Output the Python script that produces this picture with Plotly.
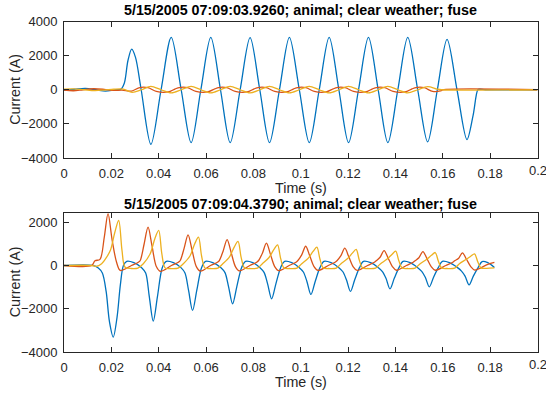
import plotly.graph_objects as go

# ---------------- data (time s, current A) ----------------
top_title = "5/15/2005 07:09:03.9260; animal; clear weather; fuse"
bottom_title = "5/15/2005 07:09:04.3790; animal; clear weather; fuse"

top_blue = [(0.0, -30), (0.0045, 30), (0.009, 80), (0.0135, 0), (0.0175, -80), (0.0215, 0),
            (0.0240, 30), (0.0255, 400), (0.0270, 1700), (0.0286, 2380), (0.0302, 1900),
            (0.0326, 0), (0.0367, -3200), (0.0410, 0), (0.0453, 3070), (0.0495, 0),
            (0.0537, -3100), (0.0578, 0), (0.0620, 3070), (0.0661, 0), (0.0702, -3100),
            (0.0744, 0), (0.0786, 3050), (0.0827, 0), (0.0868, -3100), (0.0910, 0),
            (0.0952, 3070), (0.0994, 0), (0.1036, -3100), (0.1078, 0), (0.1120, 3070),
            (0.1161, 0), (0.1202, -3100), (0.1244, 0), (0.1286, 3070), (0.1327, 0),
            (0.1368, -3100), (0.1410, 0), (0.1452, 3070), (0.1494, 0), (0.1536, -3050),
            (0.1577, 0), (0.1618, 2950), (0.1660, 0), (0.1702, -2920), (0.1728, -1500),
            (0.1748, 0), (0.1756, 30), (0.1780, 0), (0.2000, 0)]

top_red = [(0.0, -20), (0.004, -60), (0.008, 0), (0.0125, 60), (0.017, 20), (0.021, -40),
           (0.0245, -20), (0.0285, -80), (0.0320, 130), (0.0355, 120), (0.0390, -100),
           (0.0440, -130), (0.0470, 50), (0.0487, 130), (0.0522, 120), (0.0557, -100),
           (0.0607, -130), (0.0637, 50), (0.0653, 130), (0.0688, 120), (0.0723, -100),
           (0.0773, -130), (0.0803, 50), (0.0820, 130), (0.0855, 120), (0.0890, -100),
           (0.0940, -130), (0.0970, 50), (0.0987, 130), (0.1022, 120), (0.1057, -100),
           (0.1107, -130), (0.1137, 50), (0.1153, 130), (0.1188, 120), (0.1223, -100),
           (0.1273, -130), (0.1303, 50), (0.1320, 130), (0.1355, 120), (0.1390, -100),
           (0.1440, -130), (0.1470, 50), (0.1487, 130), (0.1522, 120), (0.1557, -100),
           (0.1590, -70), (0.1600, 0), (0.2000, 0)]

top_yellow = [(0.0, 40), (0.004, 50), (0.0085, 0), (0.013, -50), (0.017, -20), (0.021, 30),
              (0.0250, 40), (0.0288, -150), (0.0327, 0), (0.0367, 200), (0.0410, 0),
              (0.0453, -180), (0.0495, 0), (0.0537, 200), (0.0578, 0), (0.0620, -180),
              (0.0661, 0), (0.0702, 200), (0.0744, 0), (0.0786, -180), (0.0827, 0),
              (0.0868, 200), (0.0910, 0), (0.0952, -180), (0.0994, 0), (0.1036, 200),
              (0.1078, 0), (0.1120, -180), (0.1161, 0), (0.1202, 200), (0.1244, 0),
              (0.1286, -180), (0.1327, 0), (0.1368, 200), (0.1410, 0), (0.1452, -180),
              (0.1494, 0), (0.1536, 180), (0.1575, 40), (0.1595, 0), (0.2000, 0)]

bot_blue = [(0.0, 0), (0.0122, 0), (0.0145, -120), (0.0162, -350), (0.0178, -1200),
            (0.0192, -2600), (0.0208, -3310), (0.0224, -2400), (0.0238, -900), (0.0251, 0),
            (0.0265, 190), (0.0295, 130), (0.0328, -100),
            (0.0345, -350), (0.0360, -1414), (0.0377, -2570), (0.0395, -1414), (0.0415, -100),
            (0.0432, 190), (0.0462, 130), (0.0494, -100),
            (0.0511, -350), (0.0526, -1144), (0.0543, -2080), (0.0561, -1144), (0.0581, -100),
            (0.0598, 190), (0.0628, 130), (0.0663, -100),
            (0.0680, -330), (0.0695, -974), (0.0712, -1770), (0.0730, -974), (0.0750, -100),
            (0.0767, 190), (0.0797, 130), (0.0828, -100),
            (0.0845, -320), (0.0860, -847), (0.0877, -1540), (0.0895, -847), (0.0915, -100),
            (0.0932, 190), (0.0962, 130), (0.0994, -100),
            (0.1011, -300), (0.1026, -737), (0.1043, -1340), (0.1061, -737), (0.1081, -100),
            (0.1098, 190), (0.1128, 130), (0.1161, -100),
            (0.1178, -290), (0.1193, -660), (0.1210, -1200), (0.1228, -660), (0.1248, -100),
            (0.1265, 190), (0.1295, 130), (0.1328, -100),
            (0.1345, -280), (0.1360, -594), (0.1377, -1080), (0.1395, -594), (0.1415, -100),
            (0.1432, 190), (0.1462, 130), (0.1494, -100),
            (0.1511, -270), (0.1526, -542), (0.1543, -985), (0.1561, -542), (0.1581, -100),
            (0.1598, 190), (0.1628, 130), (0.1662, -100),
            (0.1679, -260), (0.1694, -492), (0.1711, -895), (0.1729, -492), (0.1749, -100),
            (0.1766, 180), (0.1790, 130), (0.1818, -90)]

bot_red = [(0.0, 0), (0.0117, 0), (0.0131, 220), (0.0152, 280), (0.0170, 1300), (0.0186, 2400),
           (0.0203, 1200), (0.0222, 150), (0.0238, -230),
           (0.0285, 0), (0.0314, 150), (0.0322, 230), (0.0338, 970), (0.0355, 1770),
           (0.0372, 890), (0.0390, -50), (0.0407, -270),
           (0.0454, 0), (0.0483, 150), (0.0491, 230), (0.0507, 780), (0.0524, 1420),
           (0.0541, 710), (0.0559, -50), (0.0576, -260),
           (0.0619, 0), (0.0648, 150), (0.0656, 230), (0.0672, 660), (0.0689, 1200),
           (0.0706, 600), (0.0724, -50), (0.0741, -250),
           (0.0785, 0), (0.0814, 150), (0.0822, 230), (0.0838, 570), (0.0855, 1030),
           (0.0872, 515), (0.0890, -50), (0.0907, -240),
           (0.0951, 0), (0.0980, 150), (0.0988, 230), (0.1004, 490), (0.1021, 890),
           (0.1038, 445), (0.1056, -50), (0.1073, -230),
           (0.1116, 0), (0.1145, 150), (0.1153, 220), (0.1169, 440), (0.1186, 800),
           (0.1203, 400), (0.1221, -50), (0.1238, -230),
           (0.1282, 0), (0.1311, 150), (0.1319, 220), (0.1335, 380), (0.1352, 690),
           (0.1369, 345), (0.1387, -50), (0.1404, -220),
           (0.1446, 0), (0.1475, 150), (0.1483, 220), (0.1499, 355), (0.1516, 645),
           (0.1533, 320), (0.1551, -50), (0.1568, -220),
           (0.1613, 0), (0.1642, 150), (0.1650, 220), (0.1666, 320), (0.1683, 585),
           (0.1700, 290), (0.1718, -50), (0.1735, -210), (0.1790, 50), (0.1818, 140)]

bot_yellow = [(0.0, 0), (0.0117, 0), (0.0135, -40), (0.0159, 80), (0.0178, 350), (0.0196, 700),
              (0.0214, 1500), (0.0231, 2080), (0.0245, 700), (0.0258, -80), (0.0285, -140),
              (0.0312, -120),
              (0.0335, 80), (0.0364, 540), (0.0384, 1250), (0.0400, 1620), (0.0413, 560),
              (0.0427, -110), (0.0450, -140), (0.0482, -120),
              (0.0503, 70), (0.0532, 440), (0.0552, 1000), (0.0568, 1310), (0.0581, 450),
              (0.0595, -110), (0.0618, -140), (0.0650, -120),
              (0.0670, 70), (0.0699, 400), (0.0719, 850), (0.0735, 1110), (0.0748, 390),
              (0.0762, -110), (0.0785, -140), (0.0817, -120),
              (0.0837, 70), (0.0866, 370), (0.0886, 730), (0.0902, 955), (0.0915, 330),
              (0.0929, -110), (0.0952, -140), (0.0984, -120),
              (0.1003, 70), (0.1032, 340), (0.1052, 650), (0.1068, 845), (0.1081, 300),
              (0.1095, -110), (0.1118, -140), (0.1150, -120),
              (0.1169, 70), (0.1198, 320), (0.1218, 570), (0.1234, 740), (0.1247, 260),
              (0.1261, -110), (0.1284, -140), (0.1316, -120),
              (0.1336, 70), (0.1365, 300), (0.1385, 510), (0.1401, 660), (0.1414, 230),
              (0.1428, -110), (0.1451, -140), (0.1483, -120),
              (0.1503, 70), (0.1532, 290), (0.1552, 470), (0.1568, 600), (0.1581, 210),
              (0.1595, -110), (0.1618, -140), (0.1650, -120),
              (0.1669, 70), (0.1698, 280), (0.1718, 430), (0.1734, 540), (0.1747, 190),
              (0.1761, -110), (0.1784, -130), (0.1818, -110)]

x_tick_vals = [0, 0.02, 0.04, 0.06, 0.08, 0.1, 0.12, 0.14, 0.16, 0.18]
x_tick_text = ["0", "0.02", "0.04", "0.06", "0.08", "0.1", "0.12", "0.14", "0.16", "0.18"]
x_last_tick = (0.2, "0.2")
top_y_ticks = [-4000, -2000, 0, 2000, 4000]
bot_y_ticks = [-4000, -2000, 0, 2000]
x_label = "Time (s)"
y_label = "Current (A)"

# ---------------- styling ----------------
W, H = 546, 394
C_BLUE, C_RED, C_YEL = "#0072BD", "#D95319", "#EDB120"
AX = "#262626"
FONT = "Liberation Sans, Arial, sans-serif"
TICK_SIZE = 13
LABEL_SIZE = 14.3

def px_x(p):
    return p / W

def px_y(p):
    return 1 - p / H

L, R = 64, 537.5
TOP_T, TOP_B = 21.5, 158
BOT_T, BOT_B = 212.5, 352

fig = go.Figure()

def add(series, color, xa, ya):
    fig.add_trace(go.Scatter(
        x=[p[0] for p in series], y=[p[1] for p in series], mode="lines",
        line=dict(color=color, width=1.3, shape="spline", smoothing=0.9),
        xaxis=xa, yaxis=ya, showlegend=False, hoverinfo="skip"))

for s, c in [(top_blue, C_BLUE), (top_red, C_RED), (top_yellow, C_YEL)]:
    add(s, c, "x", "y")
for s, c in [(bot_blue, C_BLUE), (bot_red, C_RED), (bot_yellow, C_YEL)]:
    add(s, c, "x2", "y2")

axis_common = dict(showline=True, linecolor=AX, linewidth=1, mirror="ticks",
                   ticks="inside", ticklen=5, tickwidth=1, tickcolor=AX,
                   showgrid=False, zeroline=False, automargin=False,
                   tickfont=dict(family=FONT, size=TICK_SIZE, color=AX))

fig.update_layout(
    template="none",
    width=W, height=H, autosize=False,
    margin=dict(l=0, r=0, t=0, b=0, pad=0),
    paper_bgcolor="white", plot_bgcolor="white",
    xaxis=dict(domain=[px_x(L), px_x(R)], range=[0, 0.2], anchor="y",
               tickvals=x_tick_vals + [x_last_tick[0]], ticktext=x_tick_text + [""],
               ticklabelstandoff=3, **axis_common),
    yaxis=dict(domain=[px_y(TOP_B), px_y(TOP_T)], range=[-4000, 4000], anchor="x",
               tickvals=top_y_ticks, ticklabelstandoff=3, **axis_common),
    xaxis2=dict(domain=[px_x(L), px_x(R)], range=[0, 0.2], anchor="y2",
                tickvals=x_tick_vals + [x_last_tick[0]], ticktext=x_tick_text + [""],
                ticklabelstandoff=3, **axis_common),
    yaxis2=dict(domain=[px_y(BOT_B), px_y(BOT_T)], range=[-4000, 2450], anchor="x2",
                tickvals=bot_y_ticks, ticklabelstandoff=3, **axis_common),
)

cx = px_x((L + R) / 2)
ann = [
    (top_title, cx, px_y(10.5), LABEL_SIZE, True, 0),
    (bottom_title, cx, px_y(204), LABEL_SIZE, True, 0),
    (x_label, cx, px_y(187.5), LABEL_SIZE, False, 0),
    (x_label, cx, px_y(381.5), LABEL_SIZE, False, 0),
    (y_label, px_x(15), px_y((TOP_T + TOP_B) / 2), LABEL_SIZE, False, -90),
    (y_label, px_x(15), px_y((BOT_T + BOT_B) / 2), LABEL_SIZE, False, -90),
]
for text, x, y, size, bold, ang in ann:
    fig.add_annotation(text=f"<b>{text}</b>" if bold else text, x=x, y=y,
                       xref="paper", yref="paper", xanchor="center", yanchor="middle",
                       showarrow=False, textangle=ang,
                       font=dict(family=FONT, size=size, color="#000000" if bold else AX))

# last x tick label (0.2) sits on the figure edge and is clipped there, as in the reference
for xa_ref, y_px in [("x", TOP_B + 12.5), ("x2", BOT_B + 12.5)]:
    fig.add_annotation(text=x_last_tick[1], x=x_last_tick[0], y=px_y(y_px),
                       xref=xa_ref, yref="paper", xanchor="center", yanchor="middle",
                       showarrow=False, font=dict(family=FONT, size=TICK_SIZE, color=AX))

fig.write_html("out.html")
